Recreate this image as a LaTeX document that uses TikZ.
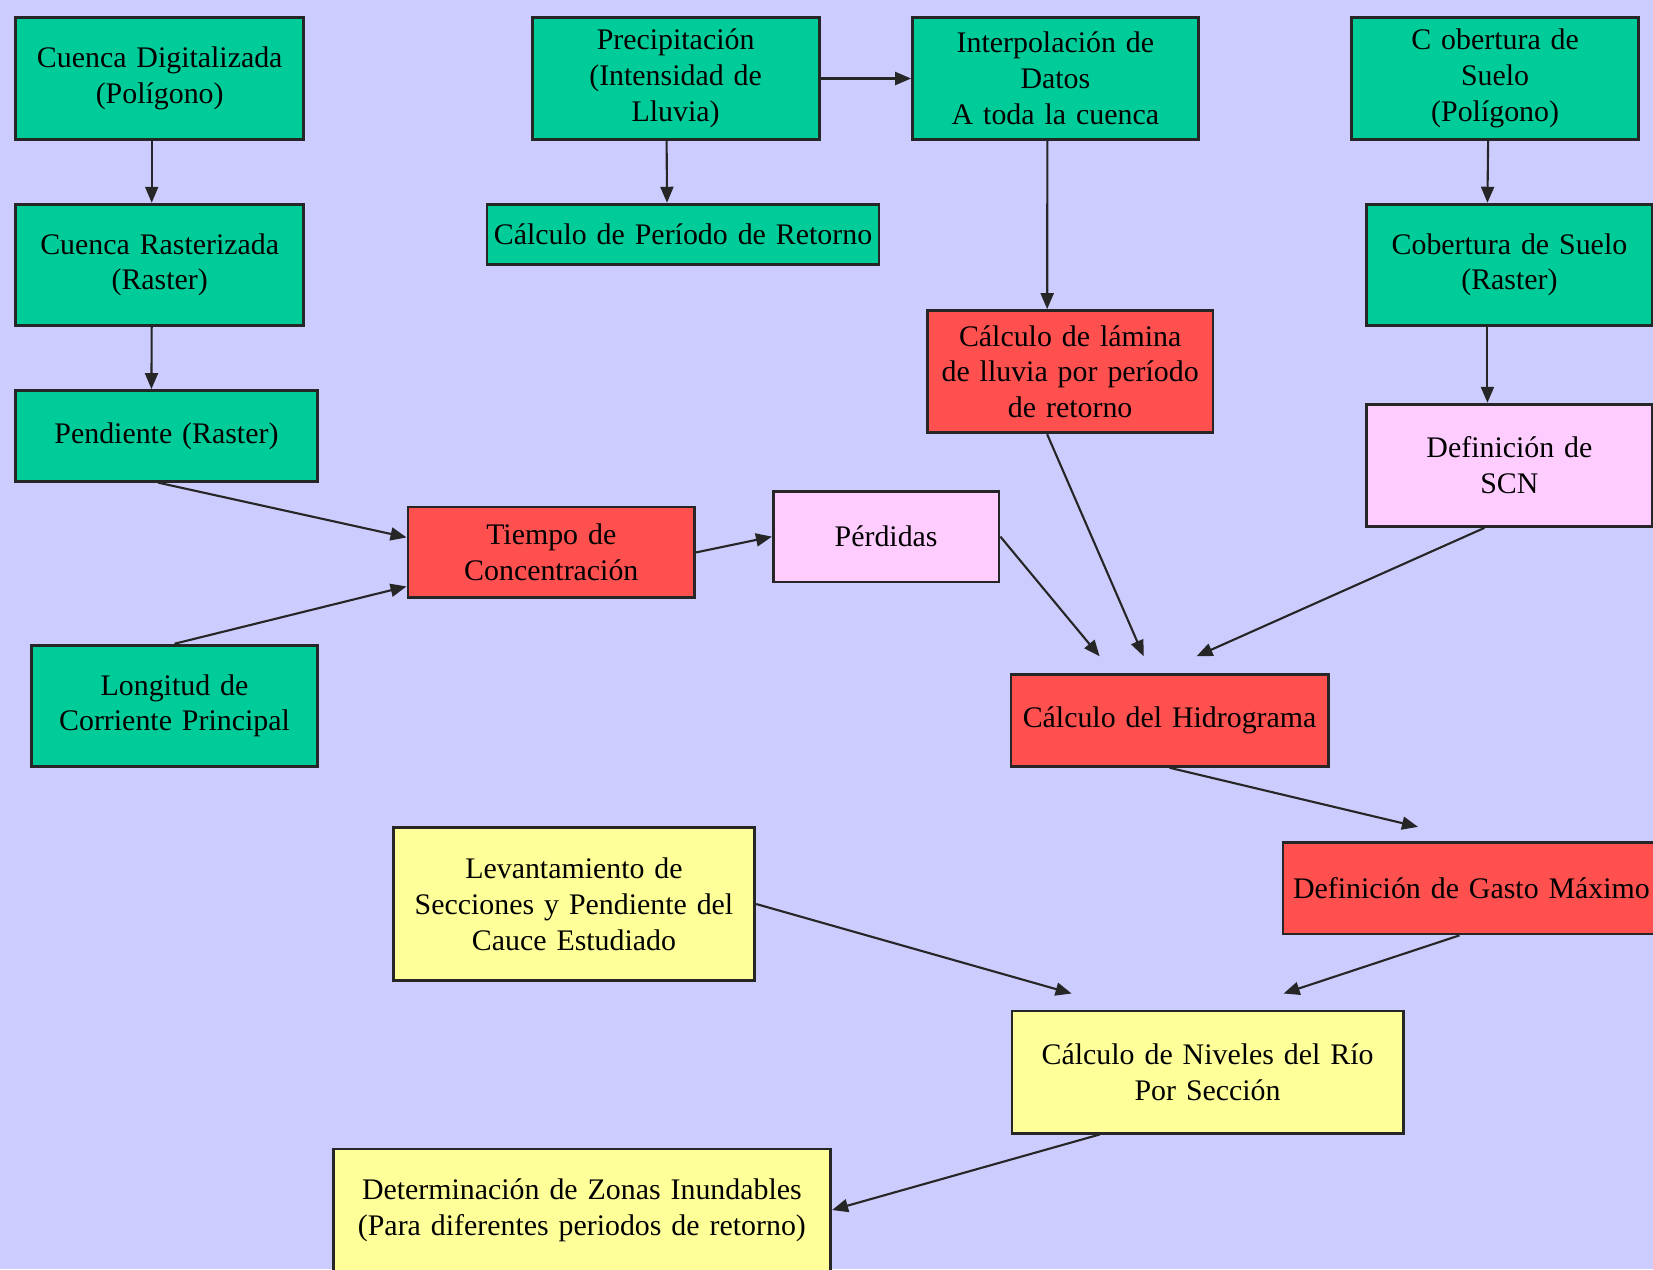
\documentclass[tikz,border=0pt]{standalone}
\usepackage{fontspec}
\setmainfont{Liberation Serif}
\usetikzlibrary{arrows.meta,positioning}

\definecolor{fondo}{HTML}{CCCCFF}
\definecolor{verde}{HTML}{00CC99}
\definecolor{rojo}{HTML}{FF5050}
\definecolor{rosa}{HTML}{FFCCFF}
\definecolor{amarillo}{HTML}{FFFF99}

\tikzset{
	%Define standard arrow tip
	>={Triangle[length=1.6mm,width=1.3mm]},
	%Define style for boxes
	caja/.style={
		rectangle,
		draw=black!85, thick,
		inner sep=0pt,
		text width=2.87cm,
		minimum height=1.213cm,
		align=center,
		font=\fontsize{8.5}{10.2}\selectfont},
	cajaverde/.style={caja, fill=verde},
	cajaroja/.style={caja, fill=rojo},
	cajarosa/.style={caja, fill=rosa},
	cajaamarilla/.style={caja, fill=amarillo},
	% Define arrow style
	flecha/.style={
		->,
		semithick,
		draw=black!85}
}

\begin{document}
\begin{tikzpicture}
	\useasboundingbox (0,0) rectangle (16.53,-12.69);
	\fill[fondo] (0,0) rectangle (16.53,-12.69);

	% cuenca
	\node[cajaverde, text width=2.88cm] (digit) at (1.597,-0.785) {Cuenca Digitalizada\\(Polígono)};
	\node[cajaverde, text width=2.88cm, below=0.622cm of digit] (rast) {Cuenca Rasterizada\\(Raster)};
	\node[cajaverde, text width=3.015cm, minimum height=0.907cm, below right=0.622cm and 0cm of rast.south west] (pend) {Pendiente (Raster)};
	\node[cajaverde, text width=2.857cm] (longitud) at (1.745,-7.058) {Longitud de\\Corriente Principal};

	% lluvia
	\node[cajaverde, right=2.256cm of digit] (precip) {Precipitación\\(Intensidad de\\Lluvia)};
	\node[cajaverde, text width=3.92cm, minimum height=0.60cm, below=0.622cm of precip, xshift=0.74mm] (periodo) {Cálculo de Período de Retorno};
	\node[cajaverde, text width=2.857cm, right=0.906cm of precip] (interp) {Interpolación de\\Datos\\A toda la cuenca};
	\node[cajaroja, text width=2.857cm, minimum height=1.223cm, below=1.686cm of interp, xshift=1.48mm] (lamina) {Cálculo de lámina\\de lluvia por período\\de retorno};

	% suelo
	\node[cajaverde, text width=2.868cm, right=1.507cm of interp] (cobpol) {C obertura de\\Suelo\\(Polígono)};
	\node[cajaverde, text width=2.86cm, below=0.622cm of cobpol, xshift=1.43mm] (cobrast) {Cobertura de Suelo\\(Raster)};
	\node[cajarosa, text width=2.86cm, minimum height=1.223cm, below=0.759cm of cobrast] (scn) {Definición de\\SCN};

	% hidrograma
	\node[cajaroja, text width=2.867cm, minimum height=0.907cm] (tiempo) at (5.513,-5.524) {Tiempo de\\Concentración};
	\node[cajarosa, text width=2.256cm, minimum height=0.906cm, right=0.759cm of tiempo, yshift=1.58mm] (perdidas) {Pérdidas};
	\node[cajaroja, text width=3.173cm, minimum height=0.917cm] (hidro) at (11.696,-7.205) {Cálculo del Hidrograma};
	\node[cajaroja, text width=3.77cm, minimum height=0.917cm] (gasto) at (14.715,-8.881) {Definición de Gasto Máximo};

	% rio
	\node[cajaamarilla, text width=3.616cm, minimum height=1.529cm] (levant) at (5.74,-9.04) {Levantamiento de\\Secciones y Pendiente del\\Cauce Estudiado};
	\node[cajaamarilla, text width=3.912cm, minimum height=1.222cm] (niveles) at (12.076,-10.72) {Cálculo de Niveles del Río\\Por Sección};
	\node[cajaamarilla, text width=4.976cm, minimum height=1.22cm] (zonas) at (5.819,-12.10) {Determinación de Zonas Inundables\\(Para diferentes periodos de retorno)};

	\path[every edge/.style={draw, flecha}]
	([xshift=-0.8mm]digit.south) edge ([xshift=-0.8mm]rast.north)
	([xshift=-0.8mm]rast.south) edge ([xshift=-1.5mm]pend.north)
	([xshift=-0.9mm]precip.south) edge ([xshift=-1.6mm]periodo.north)
	(precip.east) edge (interp.west)
	([xshift=-0.8mm]interp.south) edge ([xshift=-2.3mm]lamina.north)
	([xshift=-0.7mm]cobpol.south) edge ([xshift=-2.2mm]cobrast.north)
	([xshift=-2.2mm]cobrast.south) edge ([xshift=-2.2mm]scn.north)

	([xshift=-0.85mm]pend.south) edge ([yshift=1.5mm]tiempo.west)
	(longitud.north) edge ([yshift=-3.4mm]tiempo.west)
	(tiempo.east) edge (perdidas.west)

	(perdidas.east) edge ([xshift=-7mm,yshift=1.7mm]hidro.north)
	([xshift=-2.3mm]lamina.south) edge ([xshift=-2.6mm,yshift=1.7mm]hidro.north)
	([xshift=-2.5mm]scn.south) edge ([xshift=2.7mm,yshift=1.7mm]hidro.north)
	(hidro.south) edge ([xshift=-5.35mm,yshift=1.4mm]gasto.north)

	(levant.east) edge ([xshift=-13.6mm,yshift=1.6mm]niveles.north)
	([xshift=-1.2mm]gasto.south) edge ([xshift=7.6mm,yshift=1.6mm]niveles.north)
	([xshift=-10.8mm]niveles.south) edge (zonas.east)
	;
\end{tikzpicture}
\end{document}
